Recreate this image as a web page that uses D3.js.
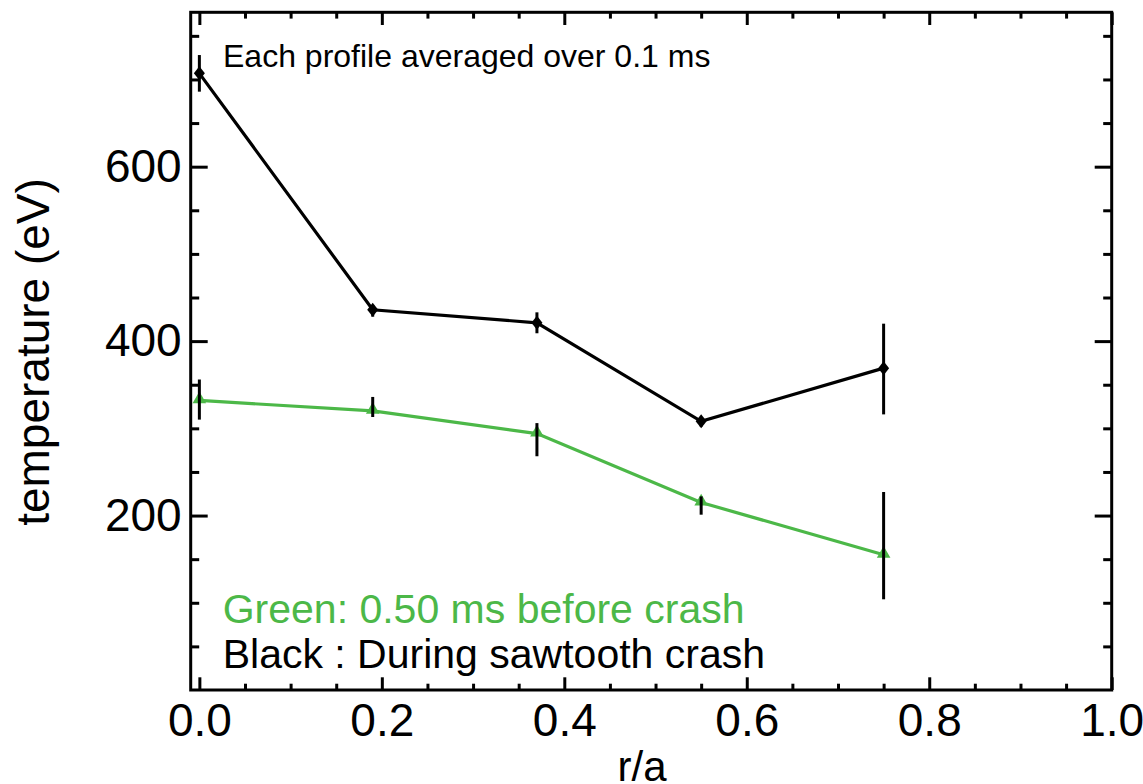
<!DOCTYPE html>
<html>
<head>
<meta charset="utf-8">
<script src="https://cdn.jsdelivr.net/npm/d3@7"></script>
<style>
  html, body { margin: 0; padding: 0; background: #fff; }
  svg text { font-family: "Liberation Sans", Arial, Helvetica, sans-serif; }
</style>
</head>
<body>
<svg id="chart" width="1143" height="784"></svg>
<script>
// ---- data ----
const radius = [0.0, 0.19, 0.37, 0.55, 0.75];           // r/a
const blackTemp = [707, 436, 421, 308, 369];            // during sawtooth crash (eV)
const blackLow  = [686, 428, 409, 302, 316];
const blackHigh = [728, 441, 433, 312, 420];
const greenTemp = [332, 320, 294, 215, 155];            // 0.50 ms before crash (eV)
const greenLow  = [310, 313, 268, 201, 104];
const greenHigh = [356, 336, 306, 222, 227];
const xMajorTicks = [0.0, 0.2, 0.4, 0.6, 0.8, 1.0];
const xTickLabels = ["0.0", "0.2", "0.4", "0.6", "0.8", "1.0"];
const xMinorTicks = [0.05, 0.1, 0.15, 0.25, 0.3, 0.35, 0.45, 0.5, 0.55, 0.65, 0.7, 0.75, 0.85, 0.9, 0.95];
const yMajorTicks = [200, 400, 600];
const yTickLabels = ["200", "400", "600"];
const yMinorTicks = [50, 100, 150, 250, 300, 350, 450, 500, 550, 650, 700, 750];
const annotation = "Each profile averaged over 0.1 ms";
const legendGreen = "Green: 0.50 ms before crash";
const legendBlack = "Black : During sawtooth crash";
const xTitle = "r/a";
const yTitle = "temperature (eV)";

// ---- layout ----
const L = 190.7, R = 1111.7, T = 12.3, B = 690;
const GREEN = "#4cb848";
const svg = d3.select("#chart");

const x = d3.scaleLinear().domain([-0.0095, 1.0]).range([L, R]);
const y = d3.scaleLinear().domain([0, 777]).range([B, T]);

function styleAxis(g) {
  g.select(".domain").remove();
  g.selectAll(".tick line").attr("stroke", "#000").attr("stroke-width", 3);
  g.selectAll(".tick text").attr("fill", "#000");
}

// bottom axis (major with labels)
svg.append("g").attr("transform", `translate(0,${B})`)
  .call(d3.axisBottom(x).tickValues(xMajorTicks)
    .tickFormat((d, i) => xTickLabels[i]).tickSizeInner(-12.7).tickSizeOuter(0).tickPadding(13))
  .call(styleAxis)
  .call(g => g.selectAll(".tick text").attr("font-size", 46).attr("dy", "0.71em"));
svg.append("g").attr("transform", `translate(0,${B})`)
  .call(d3.axisBottom(x).tickValues(xMinorTicks).tickFormat("").tickSizeInner(-6.3).tickSizeOuter(0))
  .call(styleAxis);
// top axis
svg.append("g").attr("transform", `translate(0,${T})`)
  .call(d3.axisTop(x).tickValues(xMajorTicks).tickFormat("").tickSizeInner(-12.7).tickSizeOuter(0))
  .call(styleAxis);
svg.append("g").attr("transform", `translate(0,${T})`)
  .call(d3.axisTop(x).tickValues(xMinorTicks).tickFormat("").tickSizeInner(-6.3).tickSizeOuter(0))
  .call(styleAxis);
// left axis
svg.append("g").attr("transform", `translate(${L},0)`)
  .call(d3.axisLeft(y).tickValues(yMajorTicks)
    .tickFormat((d, i) => yTickLabels[i]).tickSizeInner(-17).tickSizeOuter(0).tickPadding(9))
  .call(styleAxis)
  .call(g => g.selectAll(".tick text").attr("font-size", 46));
svg.append("g").attr("transform", `translate(${L},0)`)
  .call(d3.axisLeft(y).tickValues(yMinorTicks).tickFormat("").tickSizeInner(-8.5).tickSizeOuter(0))
  .call(styleAxis);
// right axis
svg.append("g").attr("transform", `translate(${R},0)`)
  .call(d3.axisRight(y).tickValues(yMajorTicks).tickFormat("").tickSizeInner(-17).tickSizeOuter(0))
  .call(styleAxis);
svg.append("g").attr("transform", `translate(${R},0)`)
  .call(d3.axisRight(y).tickValues(yMinorTicks).tickFormat("").tickSizeInner(-8.5).tickSizeOuter(0))
  .call(styleAxis);

// frame
svg.append("rect").attr("x", L).attr("y", T).attr("width", R - L).attr("height", B - T)
  .attr("fill", "none").attr("stroke", "#000").attr("stroke-width", 3);

// lines
const line = d3.line().x(d => x(d[0])).y(d => y(d[1]));
svg.append("path").datum(radius.map((r, i) => [r, greenTemp[i]]))
  .attr("d", line).attr("fill", "none").attr("stroke", GREEN).attr("stroke-width", 3.2);
svg.append("path").datum(radius.map((r, i) => [r, blackTemp[i]]))
  .attr("d", line).attr("fill", "none").attr("stroke", "#000").attr("stroke-width", 3.2);

// markers
const tri = d3.symbol().type(d3.symbolTriangle).size(80);
svg.append("g").selectAll("path").data(radius).join("path")
  .attr("d", tri)
  .attr("transform", (r, i) => `translate(${x(r)},${y(greenTemp[i]) - 1})`)
  .attr("fill", GREEN);
svg.append("g").selectAll("path").data(radius).join("path")
  .attr("d", "M0,-7L5.5,0L0,7L-5.5,0Z")
  .attr("transform", (r, i) => `translate(${x(r)},${y(blackTemp[i])})`)
  .attr("fill", "#000");

// error bars (black)
function errBars(lo, hi) {
  svg.append("g").selectAll("line").data(radius).join("line")
    .attr("x1", r => x(r)).attr("x2", r => x(r))
    .attr("y1", (r, i) => y(lo[i])).attr("y2", (r, i) => y(hi[i]))
    .attr("stroke", "#000").attr("stroke-width", 3);
}
errBars(greenLow, greenHigh);
errBars(blackLow, blackHigh);

// texts
svg.append("text").attr("x", 223).attr("y", 67).attr("font-size", 32).attr("fill", "#000").text(annotation);
svg.append("text").attr("x", 222.7).attr("y", 623).attr("font-size", 41).attr("fill", GREEN).text(legendGreen);
svg.append("text").attr("x", 222.7).attr("y", 668).attr("font-size", 41).attr("fill", "#000").text(legendBlack);
svg.append("text").attr("x", 642).attr("y", 781).attr("text-anchor", "middle")
  .attr("font-size", 42).attr("fill", "#000").text(xTitle);
svg.append("text").attr("transform", `translate(48.5,352) rotate(-90)`)
  .attr("text-anchor", "middle").attr("font-size", 46).attr("fill", "#000").text(yTitle);
</script>
</body>
</html>
